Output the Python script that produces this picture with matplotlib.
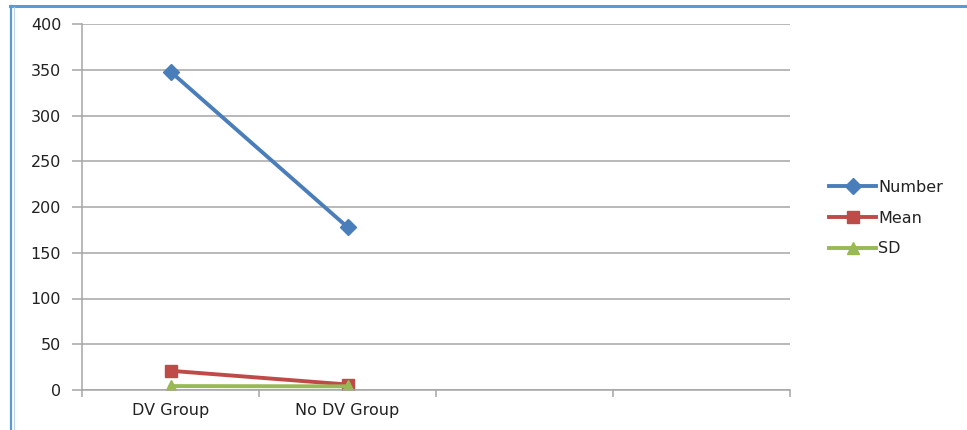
import matplotlib.pyplot as plt
from matplotlib.lines import Line2D

groups = ["DV Group", "No DV Group"]
n_slots = 4  # the category axis keeps two empty slots on the right

number = [348, 178]
mean = [21, 6]
sd = [4.3, 4.0]

series_names = ["Number", "Mean", "SD"]
colors = ["#4A7EBB", "#BE4B48", "#98B954"]
markers = ["D", "s", "^"]

plt.rcParams["font.family"] = ["DejaVu Sans"]
fs = 11.5

fig = plt.figure(figsize=(9.67, 4.30), dpi=100)
ax = fig.add_axes([82 / 967, 1 - 390 / 430, (790 - 82) / 967, (390 - 24) / 430])

x = list(range(len(groups)))
for vals, name, c, m in zip([number, mean, sd], series_names, colors, markers):
    ms = 8 if m == "D" else 9
    ax.plot(x, vals, color=c, linewidth=2.8, marker=m, markersize=ms,
            markeredgecolor=c, label=name, solid_capstyle="round")

ax.set_xlim(-0.5, n_slots - 0.5)
ax.set_ylim(0, 400)
ax.set_yticks(range(0, 401, 50))
ax.yaxis.grid(True, color="#A6A6A6", linewidth=1.1)
ax.set_axisbelow(True)

# tick marks sit on category boundaries, labels centred in each slot
ax.set_xticks([i - 0.5 for i in range(n_slots + 1)])
ax.set_xticklabels([])
ax.set_xticks(x, minor=True)
ax.set_xticklabels(groups, minor=True, fontsize=fs, color="#222222")
ax.tick_params(axis="x", which="minor", length=0, pad=9)
ax.tick_params(axis="x", which="major", length=5, color="#A6A6A6", width=1.1)
ax.tick_params(axis="y", length=7, color="#A6A6A6", width=1.1, labelsize=fs,
               labelcolor="#222222", pad=8)

for side in ["top", "right"]:
    ax.spines[side].set_visible(False)
for side in ["left", "bottom"]:
    ax.spines[side].set_color("#A6A6A6")
    ax.spines[side].set_linewidth(1.1)

handles = [Line2D([0], [0], color=c, linewidth=2.8, marker=m,
                  markersize=8 if m == "D" else 9, markeredgecolor=c)
           for c, m in zip(colors, markers)]
leg = fig.legend(handles, series_names, loc="center left",
                 bbox_to_anchor=(815 / 967, 1 - 218 / 430), frameon=False,
                 fontsize=fs, handlelength=2.9, handletextpad=0.15,
                 labelspacing=1.0)
for t in leg.get_texts():
    t.set_color("#222222")

# outer frame of the chart object
fig.add_artist(Line2D([10 / 967, 1], [1 - 5.5 / 430] * 2,
                      transform=fig.transFigure, color="#5B9BD5", linewidth=2.2))
fig.add_artist(Line2D([10.5 / 967] * 2, [0, 1 - 5.5 / 430],
                      transform=fig.transFigure, color="#5B9BD5", linewidth=1.6))
fig.add_artist(Line2D([13.5 / 967] * 2, [0, 1 - 7 / 430],
                      transform=fig.transFigure, color="#BBD3EC", linewidth=0.8))

fig.savefig("out.png", dpi=100)
